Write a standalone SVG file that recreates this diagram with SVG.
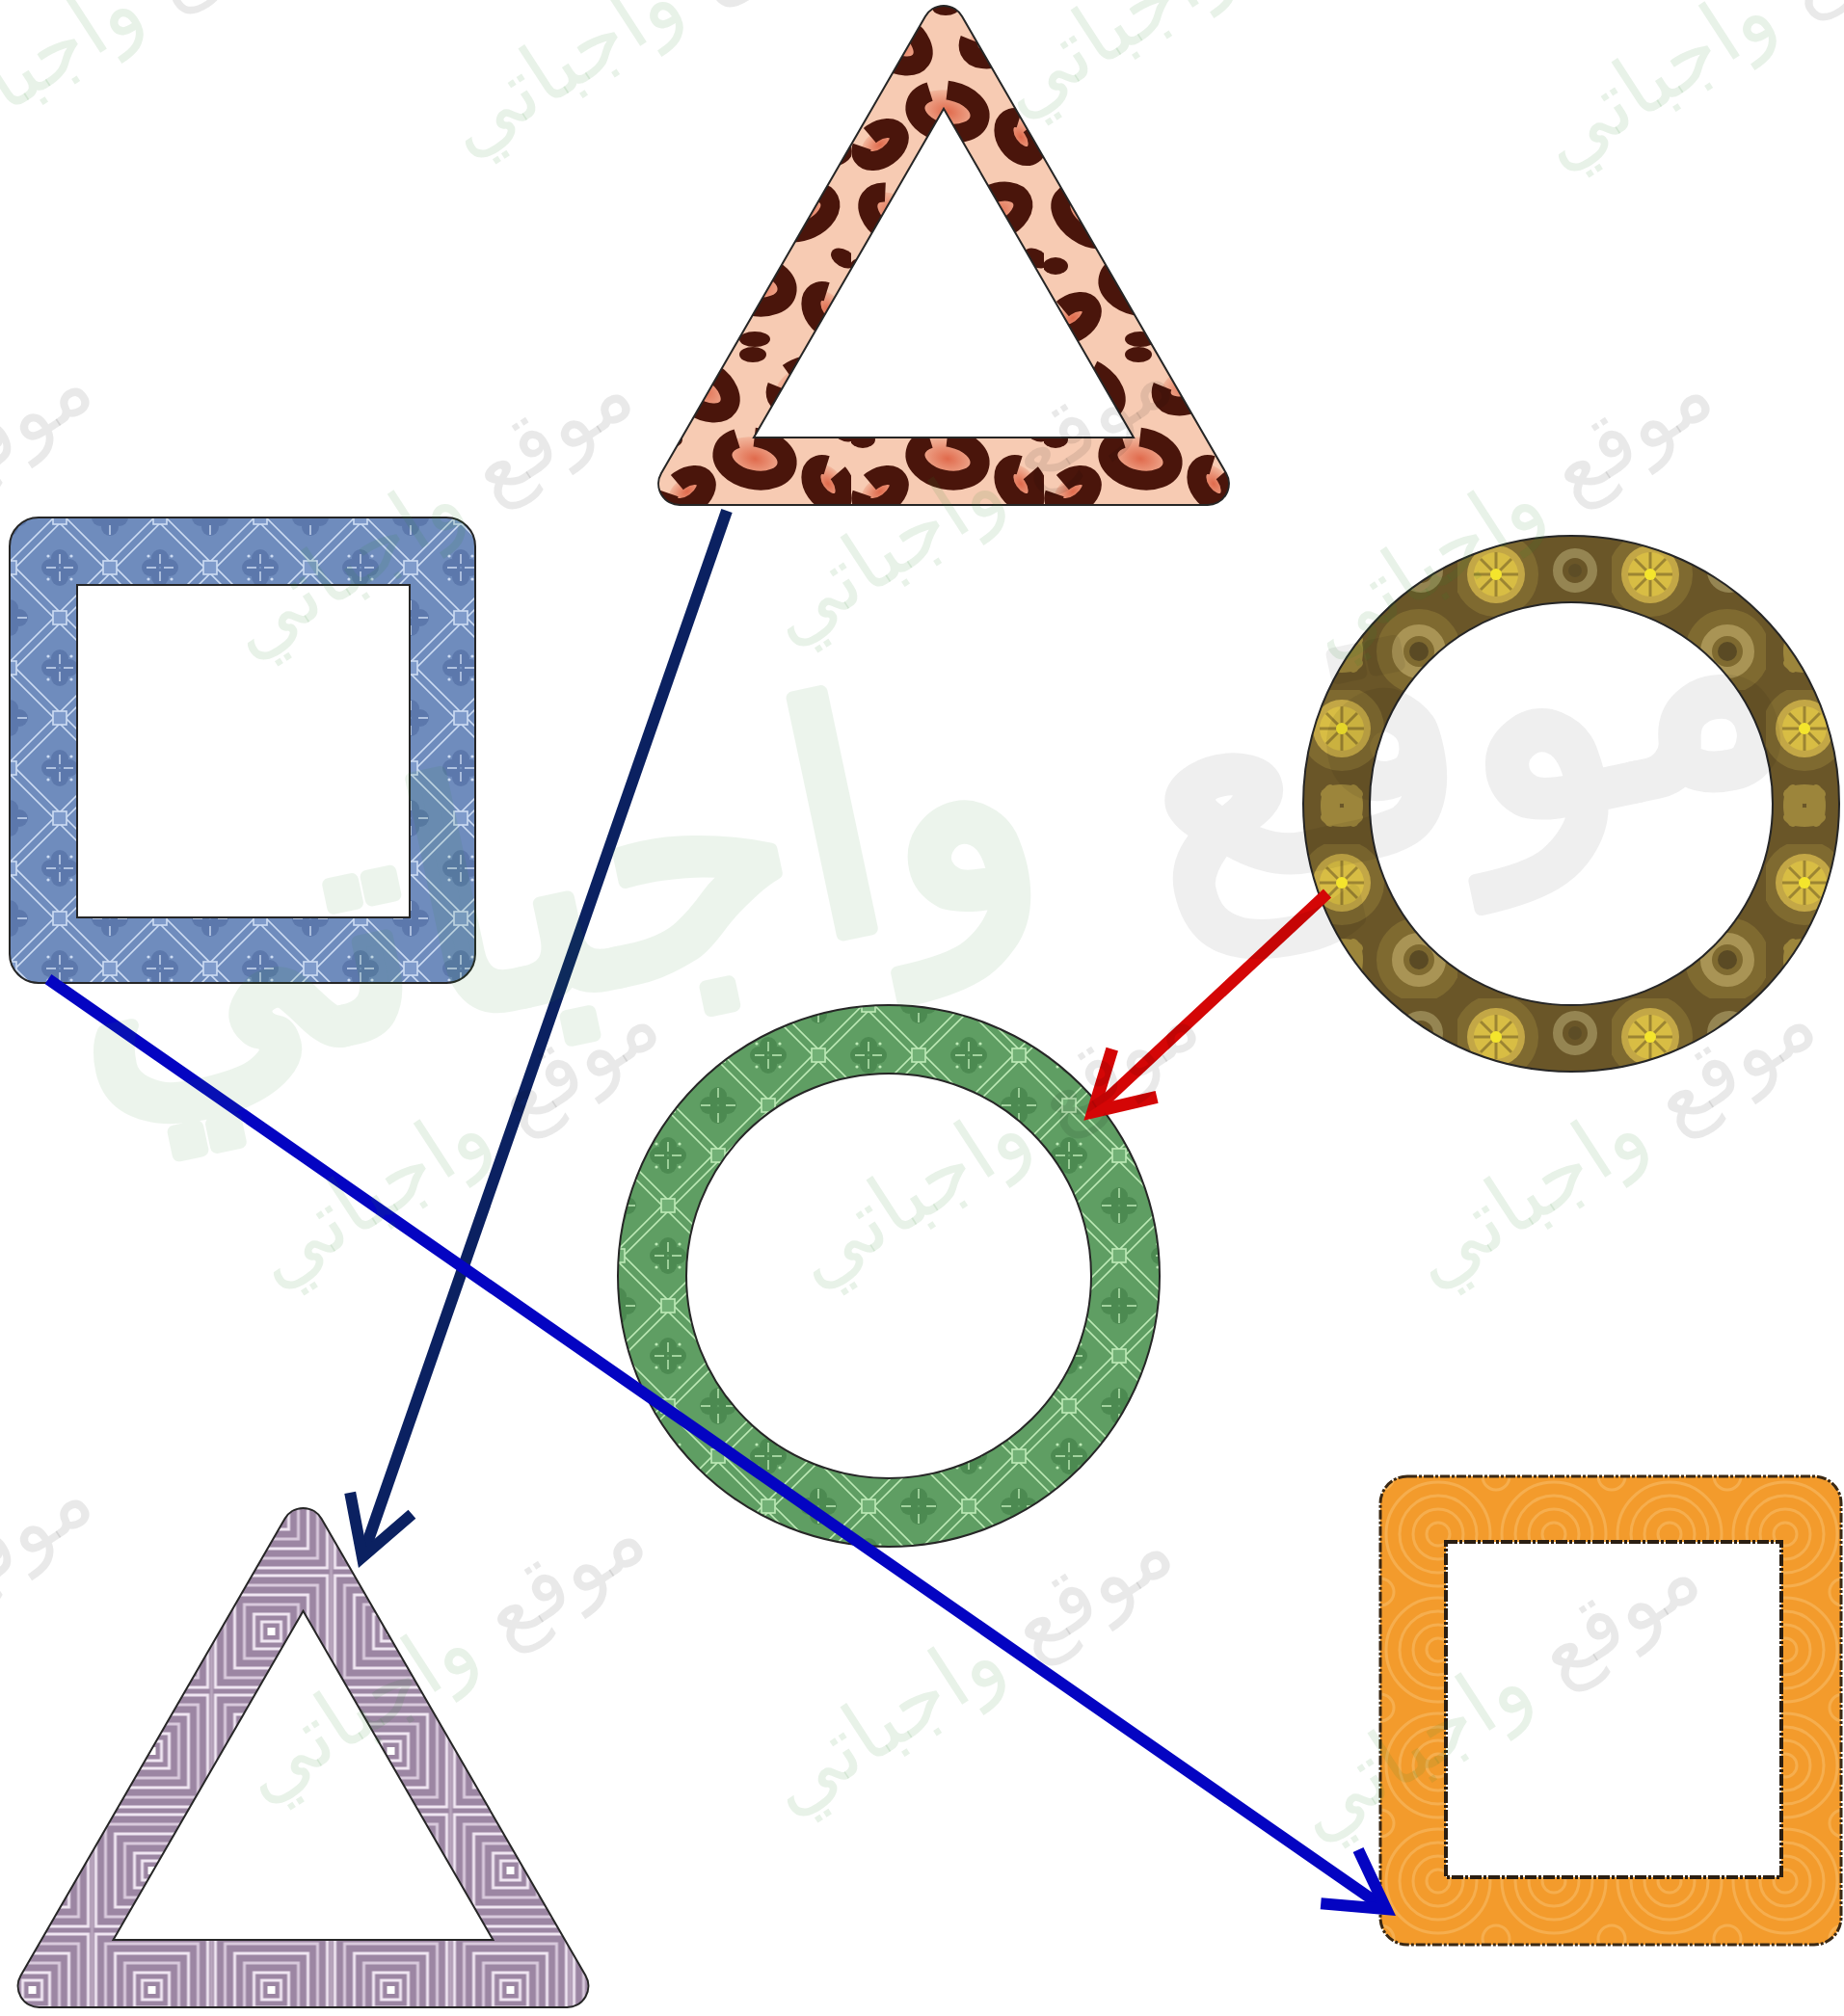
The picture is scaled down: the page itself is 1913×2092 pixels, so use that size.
<svg xmlns="http://www.w3.org/2000/svg" xmlns:xlink="http://www.w3.org/1999/xlink" width="1913" height="2092" viewBox="0 0 1913 2092">
<style>
.outline{stroke:#262626;stroke-width:2;fill-rule:evenodd}
.conn{fill:none;stroke-width:12;stroke-linecap:butt}
.wm{font-family:"DejaVu Sans","Liberation Sans",sans-serif;font-size:88px}
.wm-a{fill:#000;fill-opacity:.085}
.wm-b{fill:#2d8a2d;fill-opacity:.11}
.big{font-family:"DejaVu Sans","Liberation Sans",sans-serif;font-size:330px;stroke-width:14;stroke-linejoin:round}
</style>
<defs>
<radialGradient id="spotG" cx="0.5" cy="0.5" r="0.6">
<stop offset="0" stop-color="#e06a4c"/><stop offset="1" stop-color="#f6c6ad"/>
</radialGradient>
<pattern id="leopard" patternUnits="userSpaceOnUse" x="683" y="0" width="200" height="180">
<rect width="200" height="180" fill="#f7cbb3"/>
<g fill="url(#spotG)" stroke="#4a150b" stroke-width="20">
<ellipse cx="0" cy="0" rx="32" ry="20" transform="translate(46,44) rotate(35)" stroke-dasharray="100 16"/>
<ellipse cx="0" cy="0" rx="30" ry="19" transform="translate(150,40) rotate(-25)" stroke-dasharray="90 18"/>
<ellipse cx="0" cy="0" rx="34" ry="22" transform="translate(100,116) rotate(12)" stroke-dasharray="110 18"/>
<ellipse cx="0" cy="0" rx="22" ry="15" transform="translate(176,142) rotate(55)" stroke-dasharray="70 14"/>
<ellipse cx="0" cy="0" rx="22" ry="14" transform="translate(30,150) rotate(-35)" stroke-dasharray="68 14"/>
</g>
<g fill="#4a150b">
<ellipse cx="192" cy="88" rx="14" ry="9" transform="rotate(30 192 88)"/>
<ellipse cx="12" cy="96" rx="13" ry="9"/>
<ellipse cx="100" cy="172" rx="16" ry="8"/>
<ellipse cx="98" cy="8" rx="14" ry="8"/>
</g>
</pattern>
<pattern id="latticeBlue" patternUnits="userSpaceOnUse" x="10" y="537" width="104" height="104">
<rect width="104" height="104" fill="#6f8cbd"/>
<g fill="#5c78ac">
<circle cx="42" cy="52" r="9"/><circle cx="62" cy="52" r="9"/><circle cx="52" cy="42" r="9"/><circle cx="52" cy="62" r="9"/>
<circle cx="10" cy="0" r="9"/><circle cx="0" cy="10" r="9"/><circle cx="94" cy="0" r="9"/><circle cx="104" cy="10" r="9"/>
<circle cx="0" cy="94" r="9"/><circle cx="10" cy="104" r="9"/><circle cx="94" cy="104" r="9"/><circle cx="104" cy="94" r="9"/>
</g>
<g fill="none" stroke="#cddcf3" stroke-width="1.6">
<path d="M0,46L46,0M0,58L58,0M46,0L104,58M58,0L104,46M0,46L58,104M0,58L46,104M46,104L104,46M58,104L104,58"/>
<path d="M52,38V48M52,56V66M38,52H48M56,52H66M0,86V96M0,8V18M86,0H96M8,0H18M104,86V96M104,8V18M86,104H96M8,104H18" stroke-width="1.4"/>
<rect x="45" y="-7" width="14" height="14" fill="#7f9bcb"/><rect x="45" y="97" width="14" height="14" fill="#7f9bcb"/>
<rect x="-7" y="45" width="14" height="14" fill="#7f9bcb"/><rect x="97" y="45" width="14" height="14" fill="#7f9bcb"/>
</g>
<g fill="#cddcf3"><circle cx="40" cy="40" r="1.6"/><circle cx="64" cy="40" r="1.6"/><circle cx="40" cy="64" r="1.6"/><circle cx="64" cy="64" r="1.6"/></g>
</pattern>
<pattern id="latticeGreen" patternUnits="userSpaceOnUse" x="641" y="1043" width="104" height="104">
<rect width="104" height="104" fill="#5f9e63"/>
<g fill="#4c8a51">
<circle cx="42" cy="52" r="9"/><circle cx="62" cy="52" r="9"/><circle cx="52" cy="42" r="9"/><circle cx="52" cy="62" r="9"/>
<circle cx="10" cy="0" r="9"/><circle cx="0" cy="10" r="9"/><circle cx="94" cy="0" r="9"/><circle cx="104" cy="10" r="9"/>
<circle cx="0" cy="94" r="9"/><circle cx="10" cy="104" r="9"/><circle cx="94" cy="104" r="9"/><circle cx="104" cy="94" r="9"/>
</g>
<g fill="none" stroke="#bdeab6" stroke-width="1.6">
<path d="M0,46L46,0M0,58L58,0M46,0L104,58M58,0L104,46M0,46L58,104M0,58L46,104M46,104L104,46M58,104L104,58"/>
<path d="M52,38V48M52,56V66M38,52H48M56,52H66M0,86V96M0,8V18M86,0H96M8,0H18M104,86V96M104,8V18M86,104H96M8,104H18" stroke-width="1.4"/>
<rect x="45" y="-7" width="14" height="14" fill="#72b176"/><rect x="45" y="97" width="14" height="14" fill="#72b176"/>
<rect x="-7" y="45" width="14" height="14" fill="#72b176"/><rect x="97" y="45" width="14" height="14" fill="#72b176"/>
</g>
<g fill="#bdeab6"><circle cx="40" cy="40" r="1.6"/><circle cx="64" cy="40" r="1.6"/><circle cx="40" cy="64" r="1.6"/><circle cx="64" cy="64" r="1.6"/></g>
</pattern>
<pattern id="gold" patternUnits="userSpaceOnUse" x="1352" y="556" width="160" height="160">
<rect width="160" height="160" fill="#6a5628"/>
<circle cx="40" cy="40" r="44" fill="#7f6a30"/>
<circle cx="120" cy="120" r="44" fill="#7f6a30"/>
<g fill="#a48d3e" opacity=".85">
<ellipse cx="40" cy="108" rx="22" ry="10"/><ellipse cx="40" cy="132" rx="22" ry="10"/>
<ellipse cx="28" cy="120" rx="10" ry="22"/><ellipse cx="52" cy="120" rx="10" ry="22"/>
</g>
<circle cx="40" cy="40" r="30" fill="#c3a746"/>
<circle cx="40" cy="40" r="23" fill="#d8bd44"/>
<path d="M40,17V63M17,40H63M24,24L56,56M56,24L24,56" stroke="#9c8532" stroke-width="3"/>
<circle cx="40" cy="40" r="6" fill="#f4e52c"/>
<circle cx="120" cy="120" r="22" fill="none" stroke="#a99455" stroke-width="12"/>
<circle cx="120" cy="120" r="10" fill="#5a4a24"/>
<circle cx="122" cy="36" r="18" fill="none" stroke="#958552" stroke-width="10"/>
<circle cx="122" cy="36" r="7" fill="#5d4d26"/>
</pattern>
<pattern id="squares" patternUnits="userSpaceOnUse" x="16" y="1560" width="124" height="124">
<rect width="124" height="124" fill="#9c86a3"/>
<g fill="none" stroke="#efe5f1" stroke-width="3">
<rect x="4" y="4" width="116" height="116"/>
<rect x="14" y="14" width="96" height="96" stroke="#d8c9dc"/>
<rect x="24" y="24" width="76" height="76"/>
<rect x="34" y="34" width="56" height="56" stroke="#d8c9dc"/>
<rect x="44" y="44" width="36" height="36"/>
<rect x="52" y="52" width="20" height="20"/>
</g>
<rect x="58" y="58" width="8" height="8" fill="#fff"/>
<path d="M0,0V124M124,0V124" stroke="#b9a6be" stroke-width="3"/>
</pattern>
<pattern id="swirl" patternUnits="userSpaceOnUse" x="1432" y="1532" width="120" height="120">
<rect width="120" height="120" fill="#f39b2c"/>
<g fill="none" stroke="#f6ae4e" stroke-width="3">
<circle cx="60" cy="60" r="12"/><circle cx="60" cy="60" r="26"/><circle cx="60" cy="60" r="40"/><circle cx="60" cy="60" r="54"/>
<circle cx="0" cy="0" r="14"/><circle cx="120" cy="0" r="14"/><circle cx="0" cy="120" r="14"/><circle cx="120" cy="120" r="14"/>
</g>
</pattern>
<path id="triShape" d="M705.1,524 L1252.9,524 A22,22 0 0 0 1271.95,491 L998.05,17 A22,22 0 0 0 959.95,17 L686.05,491 A22,22 0 0 0 705.1,524 Z M782,454 L1176,454 L979,112.8 Z"/>
<marker id="ahNavy" markerUnits="userSpaceOnUse" orient="auto" markerWidth="10" markerHeight="10" refX="0" refY="0" overflow="visible">
<path d="M-59,-34 L0,0 L-59,34" fill="none" stroke="#0b2161" stroke-width="12" stroke-linejoin="miter"/>
</marker>
<marker id="ahBlue" markerUnits="userSpaceOnUse" orient="auto" markerWidth="10" markerHeight="10" refX="0" refY="0" overflow="visible">
<path d="M-59,-34 L0,0 L-59,34" fill="none" stroke="#0404c2" stroke-width="12" stroke-linejoin="miter"/>
</marker>
<marker id="ahRed" markerUnits="userSpaceOnUse" orient="auto" markerWidth="10" markerHeight="10" refX="0" refY="0" overflow="visible">
<path d="M-59,-34 L0,0 L-59,34" fill="none" stroke="#d40606" stroke-width="13" stroke-linejoin="miter"/>
</marker>
<g id="stamp"><text class="wm" text-anchor="middle" transform="rotate(-33)"><tspan class="wm-a">موقع</tspan><tspan class="wm-b"> واجباتي</tspan></text></g>
</defs>
<rect width="1913" height="2092" fill="#ffffff"/>
<g id="node-triangle-leopard"><use xlink:href="#triShape" class="outline" fill="url(#leopard)"/></g>
<g id="node-square-blue"><path class="outline" fill="url(#latticeBlue)" d="M40,537 H463 A30,30 0 0 1 493,567 V990 A30,30 0 0 1 463,1020 H40 A30,30 0 0 1 10,990 V567 A30,30 0 0 1 40,537 Z M80,607 V952 H425 V607 Z"/></g>
<g id="node-ring-gold"><path class="outline" fill="url(#gold)" d="M1352,834 a278,278 0 1,0 556,0 a278,278 0 1,0 -556,0 Z M1421,834 a209,209 0 1,0 418,0 a209,209 0 1,0 -418,0 Z"/></g>
<g id="node-ring-green"><path class="outline" fill="url(#latticeGreen)" d="M641,1324 a281,281 0 1,0 562,0 a281,281 0 1,0 -562,0 Z M712,1324 a210,210 0 1,0 420,0 a210,210 0 1,0 -420,0 Z"/></g>
<g id="node-triangle-lavender"><use xlink:href="#triShape" class="outline" fill="url(#squares)" transform="translate(-664.5,1559)"/></g>
<g id="node-square-orange">
<path fill="url(#swirl)" fill-rule="evenodd" d="M1460,1532 H1882 A28,28 0 0 1 1910,1560 V1990 A28,28 0 0 1 1882,2018 H1460 A28,28 0 0 1 1432,1990 V1560 A28,28 0 0 1 1460,1532 Z M1500,1600 V1948 H1848 V1600 Z"/>
<path fill="none" stroke="#3a2814" stroke-width="3" stroke-dasharray="10 2 3 2" d="M1460,1532 H1882 A28,28 0 0 1 1910,1560 V1990 A28,28 0 0 1 1882,2018 H1460 A28,28 0 0 1 1432,1990 V1560 A28,28 0 0 1 1460,1532 Z"/>
<rect x="1500" y="1600" width="348" height="348" fill="none" stroke="#2a1e12" stroke-width="4" stroke-dasharray="12 2 3 2"/>
</g>
<g id="connectors">
<line class="conn" stroke="#0b2161" x1="754" y1="530" x2="375.9" y2="1615.7" marker-end="url(#ahNavy)"/>
<line class="conn" stroke="#0404c2" x1="50" y1="1016" x2="1438.1" y2="1981.1" marker-end="url(#ahBlue)"/>
<line class="conn" stroke="#d40606" stroke-width="13" x1="1377" y1="927" x2="1133.8" y2="1153.8" marker-end="url(#ahRed)"/>
</g>
<g id="watermarks">
<g opacity=".085"><text class="big" fill="#2d8a2d" stroke="#2d8a2d" text-anchor="middle" transform="translate(590,1030) rotate(-12)">واجباتي</text></g>
<g opacity=".06"><text class="big" fill="#000" stroke="#000" text-anchor="middle" transform="translate(1540,860) rotate(-12)">موقع</text></g>
<use xlink:href="#stamp" x="127" y="40"/>
<use xlink:href="#stamp" x="687" y="33"/>
<use xlink:href="#stamp" x="1260" y="-7"/>
<use xlink:href="#stamp" x="1821" y="47"/>
<use xlink:href="#stamp" x="-100" y="547"/>
<use xlink:href="#stamp" x="461" y="554"/>
<use xlink:href="#stamp" x="1021" y="540"/>
<use xlink:href="#stamp" x="1581" y="554"/>
<use xlink:href="#stamp" x="488" y="1207"/>
<use xlink:href="#stamp" x="1048" y="1207"/>
<use xlink:href="#stamp" x="1688" y="1207"/>
<use xlink:href="#stamp" x="-100" y="1701"/>
<use xlink:href="#stamp" x="474" y="1741"/>
<use xlink:href="#stamp" x="1021" y="1754"/>
<use xlink:href="#stamp" x="1568" y="1781"/>
</g>
</svg>
